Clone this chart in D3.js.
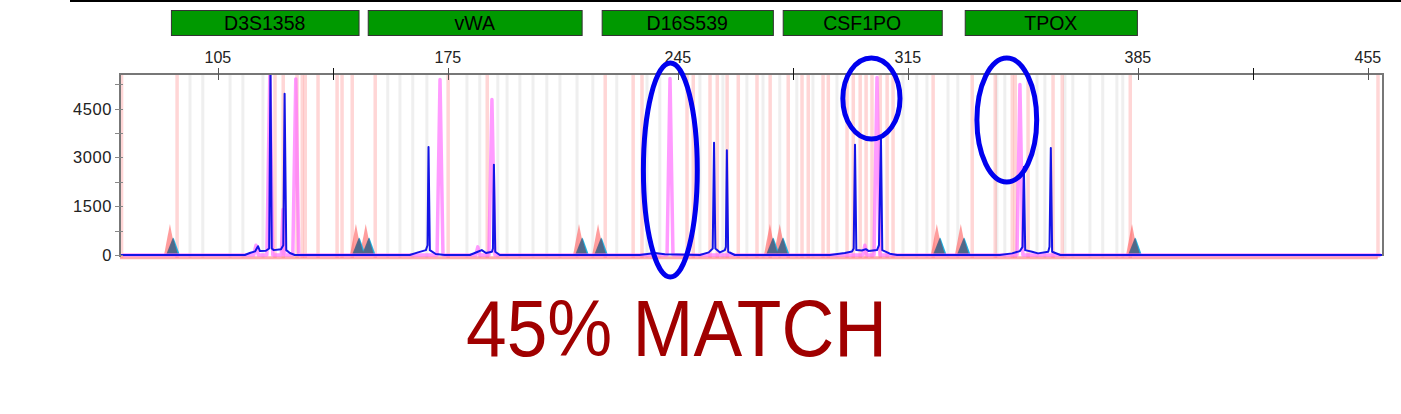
<!DOCTYPE html>
<html>
<head>
<meta charset="utf-8">
<script src="https://cdn.jsdelivr.net/npm/d3@7"></script>
<style>
    body { margin: 0; background: #fff; }
    svg { display: block; font-family: "Liberation Sans", Arial, sans-serif; }
</style>
</head>
<body>
<svg id="chart" width="1401" height="414"></svg>
<script>
// marker (locus) ranges, in bp
const markerNames = ["D3S1358", "vWA", "D16S539", "CSF1PO", "TPOX"];
const markerStart = [90.7, 150.6, 221.8, 276.9, 332.3];
const markerEnd = [147.8, 215.7, 273.9, 325.3, 384.7];

// axis ticks
const sizeTicks = [105, 175, 245, 315, 385, 455];
const sizeMidTicks = [140, 280, 420];
const rfuTicks = [0, 750, 1500, 2250, 3000, 3750, 4500, 5250];
const rfuLabels = [0, 1500, 3000, 4500];

// allele bins (background stripes), in bp
const binsRed = [75.6, 92.5, 122.3, 124.8, 129.0, 130.6, 131.5, 135.4, 141.2, 142.7, 145.8,
    152.8, 175.0, 186.9, 222.8, 231.3, 234.0, 247.7, 249.6, 254.7, 256.9, 259.9, 263.3,
    269.0, 273.0, 278.5, 282.7, 284.6, 289.1, 290.7, 296.4, 298.3, 300.4, 302.2, 304.0,
    306.5, 308.6, 310.4, 322.6, 334.5, 341.5, 346.7, 347.6, 351.5, 359.1, 361.9, 382.6, 458.0];
const binsGrey = [96.5, 100.4, 108.7, 112.6, 118.7, 156.7, 160.4, 164.3, 168.6, 180.8, 184.7,
    190.2, 193.0, 196.9, 200.9, 205.1, 209.1, 214.3, 219.1, 226.4, 235.6, 239.5, 251.7,
    258.7, 266.0, 270.9, 276.0, 281.2, 286.1, 293.4, 313.5, 317.7, 320.8, 327.2, 330.2,
    342.1, 344.5, 354.3, 356.7, 362.8, 365.2, 370.4, 374.3, 378.6, 380.4];

// ladder / virtual peaks (triangles)
const ladderSizes = [90.4, 147.0, 150.0, 214.9, 220.7, 273.0, 276.0, 323.8, 331.1, 383.2];
const ladderRed = [950, 950, 950, 950, 950, 950, 950, 950, 950, 950];
const ladderBlue = [540, 540, 540, 540, 540, 540, 540, 540, 540, 540];

// reference profile (magenta trace)
const refSizes = [76, 115.9, 116.6, 117.3, 119.9, 120.8, 121.7, 124.3, 124.8, 125.3, 127.8, 128.7,
    129.6, 171.7, 172.6, 173.5, 183.5, 184.1, 184.7, 187.5, 188.4, 189.3, 241.7, 242.6, 243.5,
    301.3, 301.9, 302.5, 304.7, 305.6, 306.5, 348.2, 349.1, 350.0, 459];
const refRfu = [0, 0, 300, 0, 0, 5550, 0, 0, 1400, 0, 0, 5410,
    0, 0, 5390, 0, 0, 250, 0, 0, 4775, 0, 0, 5420, 0,
    0, 300, 0, 0, 5450, 0, 0, 5235, 0, 0];

// sample profile (blue trace)
const sampleSizes = [75.5, 113.2, 114.7, 116.3, 117.2, 117.8, 119.6, 120.6, 121.0, 121.4, 122.0,
    124.2, 124.9, 125.3, 125.8, 126.9, 128.4,
    163.4, 165.9, 168.3, 168.8, 169.1, 169.5, 171.3, 174.1,
    181.7, 184.1, 185.3, 186.6, 188.4, 188.7, 189.0, 189.4, 190.8,
    233.4, 238.0, 241.0, 251.7, 254.4, 255.6, 256.0, 256.4, 257.8, 259.3, 259.6, 259.9, 260.3, 262.3,
    291.3, 295.8, 298.0, 298.5, 298.9, 299.3, 301.0, 302.2, 303.1, 305.6, 306.2, 306.8, 307.2,
    309.5, 311.7,
    343.0, 346.7, 349.1, 349.9, 350.3, 350.7, 352.8, 354.6, 357.7, 358.1, 358.5, 358.9, 361.4, 459.5];
const sampleRfu = [0, 0, 60, 110, 270, 120, 130, 200, 5800, 200, 150,
    180, 300, 4950, 150, 60, 0,
    0, 80, 150, 300, 3320, 150, 30, 0,
    0, 100, 150, 60, 100, 200, 2770, 100, 0,
    0, 60, 20, 0, 80, 200, 3450, 200, 80, 150, 250, 3220, 100, 0,
    0, 60, 110, 200, 3390, 150, 140, 180, 120, 150, 300, 3580, 150,
    40, 0,
    0, 50, 120, 250, 2700, 150, 100, 50, 100, 250, 3290, 100, 0, 0];

// circled (missing) alleles
const circleSizes = [242.7, 303.9, 345.1];
const circleRfu = [2611, 4807, 4147];
const circleRxBp = [8.2, 8.7, 9.1];
const circleRyRfu = [3287, 1244, 1904];

const matchText = "45% MATCH";


function Config() {
    this.w = 1401;
    this.h = 414;
    this.left = 120;
    this.right = 1383;
    this.top = 74;
    this.bottom = 255;
    this.xScale = d3.scaleLinear()
        .domain([75.2, 459.6])
        .range([this.left, this.right]);
    this.yScale = d3.scaleLinear()
        .domain([0, 5560])
        .range([this.bottom, this.top]);
    this.blue = "#1414e6";
    this.magenta = "#ff66ff";
}

const cfg = new Config();
const svg = d3.select("#chart");
const x = cfg.xScale, y = cfg.yScale;

// top rule
svg.append("rect")
    .attr("x", 70).attr("y", 0)
    .attr("width", cfg.w - 70).attr("height", 2)
    .attr("fill", "#000");

// marker boxes
const markers = markerNames.map((name, i) => ({name, start: markerStart[i], end: markerEnd[i]}));
const mk = svg.append("g").selectAll("g").data(markers).enter().append("g");
mk.append("rect")
    .attr("x", d => x(d.start) + 0.5)
    .attr("y", 10.5)
    .attr("width", d => x(d.end) - x(d.start))
    .attr("height", 25)
    .attr("fill", "#009900")
    .attr("stroke", "#333")
    .attr("stroke-width", 1);
mk.append("text")
    .attr("x", d => (x(d.start) + x(d.end)) / 2)
    .attr("y", 30)
    .attr("text-anchor", "middle")
    .attr("font-size", 19.5)
    .attr("fill", "#000")
    .text(d => d.name);

// clip for the plot area
svg.append("defs").append("clipPath").attr("id", "plotClip")
    .append("rect")
    .attr("x", cfg.left).attr("y", cfg.top)
    .attr("width", cfg.right - cfg.left).attr("height", cfg.bottom - cfg.top + 6);

const plot = svg.append("g").attr("clip-path", "url(#plotClip)");

// bin stripes
plot.selectAll(".bin-grey").data(binsGrey).enter().append("rect")
    .attr("class", "bin-grey")
    .attr("x", d => x(d) - 1.5)
    .attr("y", cfg.top)
    .attr("width", 3)
    .attr("height", cfg.bottom - cfg.top + 3)
    .attr("fill", "#efefef");
plot.selectAll(".bin-red").data(binsRed).enter().append("rect")
    .attr("class", "bin-red")
    .attr("x", d => x(d) - 1.5)
    .attr("y", cfg.top)
    .attr("width", 3.5)
    .attr("height", cfg.bottom - cfg.top + 3)
    .attr("fill", "#ff3030")
    .attr("opacity", 0.2);

// pink band under the baseline
plot.append("line")
    .attr("x1", cfg.left).attr("x2", x(458))
    .attr("y1", y(-85)).attr("y2", y(-85))
    .attr("stroke", "#ff6a6a")
    .attr("stroke-width", 3)
    .attr("opacity", 0.55);

// ladder triangles
const tri = (c, h, l, r) => [[x(c - l), y(0)], [x(c), y(h)], [x(c + r), y(0)]].join(" ");
const ladder = ladderSizes.map((s, i) => ({s, red: ladderRed[i], blue: ladderBlue[i]}));
plot.selectAll(".lad-red").data(ladder).enter().append("polygon")
    .attr("points", d => tri(d.s, d.red, 1.8, 1.8))
    .attr("fill", "#ff5c5c").attr("opacity", 0.6);
plot.selectAll(".lad-cyan").data(ladder).enter().append("polygon")
    .attr("points", d => tri(d.s + 1.1, d.blue, 2.0, 1.9))
    .attr("fill", "#1fb0e0");
plot.selectAll(".lad-dark").data(ladder).enter().append("polygon")
    .attr("points", d => tri(d.s + 0.9, d.blue, 2.1, 1.6))
    .attr("fill", "#55607f").attr("opacity", 0.9);

const line = d3.line().x(d => x(d[0])).y(d => y(d[1]));

// reference trace
plot.append("path")
    .datum(refSizes.map((s, i) => [s, refRfu[i]]))
    .attr("d", line)
    .attr("fill", "none")
    .attr("stroke", cfg.magenta)
    .attr("stroke-width", 3.5)
    .attr("stroke-linejoin", "round")
    .attr("opacity", 0.65);

// sample trace
plot.append("path")
    .datum(sampleSizes.map((s, i) => [s, sampleRfu[i]]))
    .attr("d", line)
    .attr("fill", "none")
    .attr("stroke", cfg.blue)
    .attr("stroke-width", 2)
    .attr("stroke-linejoin", "round");

// frame
svg.append("path")
    .attr("d", `M${cfg.left},${cfg.bottom + 2}V${cfg.top}H${cfg.right}V${cfg.bottom + 1}`)
    .attr("fill", "none")
    .attr("stroke", "#777")
    .attr("stroke-width", 2);

// x axis (drawn on top edge)
const xAxis = svg.append("g");
xAxis.selectAll(".xt").data(sizeTicks.concat(sizeMidTicks)).enter().append("line")
    .attr("x1", d => Math.round(x(d)) + 0.5).attr("x2", d => Math.round(x(d)) + 0.5)
    .attr("y1", cfg.top - 6).attr("y2", cfg.top + 6)
    .attr("stroke", d => sizeMidTicks.includes(d) ? "#111" : "#555")
    .attr("stroke-width", 1);
xAxis.selectAll(".xl").data(sizeTicks).enter().append("text")
    .attr("x", d => x(d))
    .attr("y", 63)
    .attr("text-anchor", "middle")
    .attr("font-size", 16)
    .attr("fill", "#222")
    .text(d => d);

// y axis
const yAxis = svg.append("g");
yAxis.selectAll(".yt").data(rfuTicks).enter().append("line")
    .attr("x1", cfg.left - 5).attr("x2", cfg.left + 3)
    .attr("y1", d => Math.round(y(d)) + 0.5).attr("y2", d => Math.round(y(d)) + 0.5)
    .attr("stroke", "#888")
    .attr("stroke-width", 1);
yAxis.selectAll(".yl").data(rfuLabels).enter().append("text")
    .attr("x", cfg.left - 8)
    .attr("y", d => y(d) + 6)
    .attr("text-anchor", "end")
    .attr("font-size", 16.5)
    .attr("letter-spacing", 0.6)
    .attr("fill", "#222")
    .text(d => d);

// circled alleles
const circles = circleSizes.map((s, i) => ({s, r: circleRfu[i], rx: circleRxBp[i], ry: circleRyRfu[i]}));
svg.selectAll(".ring").data(circles).enter().append("ellipse")
    .attr("cx", d => x(d.s))
    .attr("cy", d => y(d.r))
    .attr("rx", d => x(d.s + d.rx) - x(d.s))
    .attr("ry", d => y(0) - y(d.ry))
    .attr("fill", "none")
    .attr("stroke", "#0000ee")
    .attr("stroke-width", 5);

// match label
svg.append("text")
    .attr("x", 466)
    .attr("y", 356)
    .attr("font-size", 79)
    .attr("textLength", 421)
    .attr("lengthAdjust", "spacingAndGlyphs")
    .attr("fill", "#a00000")
    .text(matchText);
</script>
</body>
</html>
